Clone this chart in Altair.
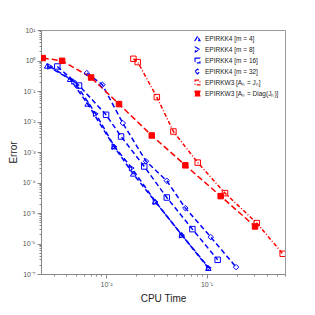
import altair as alt
import pandas as pd

series_names = [
    "EPIRKK4 [m = 4]",
    "EPIRKK4 [m = 8]",
    "EPIRKK4 [m = 16]",
    "EPIRKK4 [m = 32]",
    "EPIRKW3 [Aₙ = Jₙ]",
    "EPIRKW3 [Aₙ = Diag(Jₙ)]",
]
series_colors = ["#0000FF", "#0000FF", "#0000FF", "#0000FF", "#FF0000", "#FF0000"]
series_shapes = ["triangle-up", "triangle-right", "square", "diamond", "square", "square"]
series_fills = ["transparent", "transparent", "transparent", "transparent", "transparent", "#FF0000"]
series_dashes = [[5, 3], [5, 3], [5, 3], [5, 3], [4, 2, 1, 2], [6, 3]]

m4_time = [0.00259, 0.00438, 0.00655, 0.0120, 0.0186, 0.0308, 0.0566, 0.1042]
m4_err = [0.67, 0.245, 0.038, 0.00151, 1.93e-4, 2.38e-5, 1.93e-6, 1.56e-7]

m8_time = [0.00277, 0.00481, 0.00790, 0.0121, 0.0180, 0.0311, 0.0570, 0.1054]
m8_err = [0.636, 0.205, 0.0179, 0.00151, 2.97e-4, 2.33e-5, 1.86e-6, 1.6e-7]

m16_time = [0.00327, 0.00538, 0.0100, 0.0141, 0.0240, 0.0402, 0.0723, 0.129]
m16_err = [0.636, 0.151, 0.0166, 0.00322, 3.35e-4, 3.22e-5, 2.96e-6, 2.92e-7]

m32_time = [0.00643, 0.00919, 0.01466, 0.0250, 0.0402, 0.0615, 0.1102, 0.1968]
m32_err = [0.386, 0.160, 0.00887, 4.95e-4, 1.14e-4, 1.45e-5, 1.62e-6, 1.68e-7]

w3j_time = [0.0187, 0.02066, 0.0320, 0.0468, 0.0817, 0.1527, 0.316, 0.573]
w3j_err = [1.137, 0.887, 0.063, 0.0047, 4.49e-4, 4.49e-5, 4.67e-6, 4.6e-7]

w3d_time = [0.002344, 0.00365, 0.0071, 0.01345, 0.0285, 0.0615, 0.1383, 0.304]
w3d_err = [1.2, 0.977, 0.277, 0.0372, 0.00348, 3.66e-4, 3.58e-5, 3.61e-6]

all_times = [m4_time, m8_time, m16_time, m32_time, w3j_time, w3d_time]
all_errs = [m4_err, m8_err, m16_err, m32_err, w3j_err, w3d_err]

rows = []
for name, ts, es in zip(series_names, all_times, all_errs):
    for i, (t, e) in enumerate(zip(ts, es)):
        rows.append({"series": name, "dashkey": name, "time": t, "error": e, "idx": i})
df = pd.DataFrame(rows)

x_domain = [0.00225, 0.604]
y_domain = [1e-7, 10]

sup = {"-": "⁻", "0": "⁰", "1": "¹", "2": "²", "3": "³", "4": "⁴",
       "5": "⁵", "6": "⁶", "7": "⁷", "8": "⁸", "9": "⁹"}

major_test = "abs(log(datum.value)/LN10 - round(log(datum.value)/LN10)) < 0.001"


def label_expr(exps):
    parts = []
    for e in exps:
        s = "10" + "".join(sup[c] for c in str(e))
        parts.append(f"round(log(datum.value)/LN10)=={e}?'{s}':")
    return f"({major_test}) ? (" + "".join(parts) + "'') : ''"


x_ticks = [k * 10.0 ** e for e in range(-3, 0) for k in range(1, 10)]
x_ticks = [v for v in x_ticks if x_domain[0] <= v <= x_domain[1]]
y_ticks = [k * 10.0 ** e for e in range(-7, 1) for k in range(1, 10)] + [10.0]

color_scale = alt.Scale(domain=series_names, range=series_colors)

x_enc = alt.X(
    "time:Q",
    scale=alt.Scale(type="log", domain=x_domain),
    axis=alt.Axis(
        title="CPU Time",
        values=x_ticks,
        labelExpr=label_expr([-3, -2, -1]),
        tickSize={"condition": {"test": major_test, "value": 4}, "value": 2},
        grid=False,
    ),
)
y_enc = alt.Y(
    "error:Q",
    scale=alt.Scale(type="log", domain=y_domain),
    axis=alt.Axis(
        title="Error",
        values=y_ticks,
        labelExpr=label_expr(list(range(-7, 2))),
        tickSize={"condition": {"test": major_test, "value": 4}, "value": 2},
        grid=False,
    ),
)

leg = alt.Legend(title=None, orient="none", legendX=153, legendY=5)

points = alt.Chart(df).mark_point(size=30, strokeWidth=1, opacity=1, clip=True).encode(
    x=x_enc,
    y=y_enc,
    color=alt.Color("series:N", scale=color_scale, legend=leg),
    shape=alt.Shape("series:N", scale=alt.Scale(domain=series_names, range=series_shapes), legend=leg),
    fill=alt.Fill("series:N", scale=alt.Scale(domain=series_names, range=series_fills), legend=leg),
)

lines = alt.Chart(df).mark_line(strokeWidth=1.5, clip=True).encode(
    x=x_enc,
    y=y_enc,
    color=alt.Color("series:N", scale=color_scale, legend=leg),
    strokeDash=alt.StrokeDash("dashkey:N", scale=alt.Scale(domain=series_names, range=series_dashes), legend=None),
    order="idx:Q",
)

chart = alt.layer(lines, points).properties(
    width=244,
    height=244,
    autosize=alt.AutoSizeParams(type="none"),
    padding={"left": 33, "top": 22, "right": 22, "bottom": 41},
).configure_view(
    stroke="#999999", strokeWidth=1
).configure_axis(
    domainColor="#888888",
    tickColor="#888888",
    labelColor="#555555",
    labelFont="Liberation Sans",
    labelFontSize=7,
    titleFont="Liberation Sans",
    titleFontSize=10,
    titleFontWeight="normal",
    titleColor="#222222",
    labelPadding=2,
).configure_axisX(
    titlePadding=6,
).configure_axisY(
    titlePadding=4,
).configure_legend(
    labelFontSize=6.5,
    labelFont="Liberation Sans",
    labelColor="#222222",
    symbolSize=24,
    symbolStrokeWidth=1.2,
    symbolDash=[1, 0],
    rowPadding=0,
    padding=0,
    labelOffset=4,
)

chart.save("out.html", embed_options={"renderer": "svg", "actions": False})
